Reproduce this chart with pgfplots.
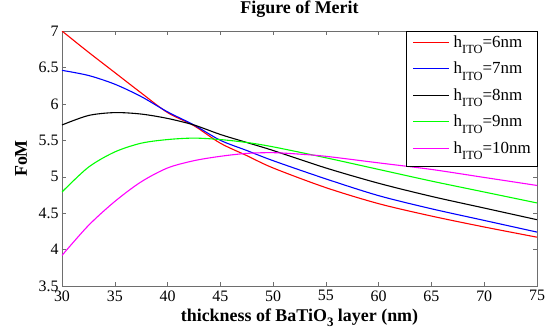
\documentclass[border=0pt]{standalone}
\usepackage{fontspec}
\setmainfont{Liberation Serif}
\usepackage{pgfplots}
\pgfplotsset{compat=1.18}
\definecolor{mred}{RGB}{255,0,0}
\definecolor{mblue}{RGB}{0,0,255}
\definecolor{mgreen}{RGB}{0,255,0}
\definecolor{mmag}{RGB}{255,0,255}
\definecolor{axgray}{RGB}{110,110,110}
\newcommand{\sub}[1]{\raisebox{-6.5bp}{\fontsize{12.5}{14}\selectfont #1}}
\begin{document}
\begin{tikzpicture}
\begin{axis}[
  scale only axis, width=475bp, height=255bp,
  xmin=30, xmax=75, ymin=3.5, ymax=7,
  xtick={30,35,...,75}, ytick={3.5,4,...,7},
  tick align=inside, major tick length=4bp,
  axis line style={axgray}, every tick/.style={axgray},
  /pgf/number format/assume math mode=true,
  tick label style={font=\fontsize{16}{19}\selectfont, text=black},
  xticklabel style={yshift=-1bp},
  title={Figure of Merit},
  title style={font=\fontsize{18}{21}\selectfont\bfseries, at={(axis description cs:0.5,1.0459)}, anchor=base},
  xlabel={thickness of BaTiO\raisebox{-5bp}{\fontsize{13}{15}\selectfont 3} layer (nm)},
  xlabel style={font=\fontsize{18}{21}\selectfont\bfseries, at={(axis description cs:0.5,-0.14)}, anchor=base},
  ylabel={FoM},
  ylabel style={font=\fontsize{18}{21}\selectfont\bfseries, at={(axis description cs:-0.0737,0.5)}, anchor=base},
  legend style={at={(1,1)}, anchor=north east, draw=black, fill=white,
    font=\fontsize{17}{20}\selectfont, row sep=3.5bp, column sep=4bp,
    inner xsep=6bp, inner ysep=3bp,
    nodes={inner sep=0pt, text height=13bp, text depth=10bp},
    cells={anchor=west}},
  legend image code/.code={\draw[#1, line width=1.1bp] (0bp,3.5bp) -- (36bp,3.5bp);},
  every axis plot/.append style={line width=1.1bp, smooth},
]
\addplot[mred] coordinates {(30,7.00) (32.5,6.71) (35,6.43) (37.5,6.15) (40,5.88) (42.5,5.70) (45,5.46) (47.5,5.29) (50,5.12) (55,4.85) (60,4.63) (65,4.46) (70,4.31) (75,4.17)};
\addlegendentry{h\sub{ITO}=6nm}
\addplot[mblue] coordinates {(30,6.46) (32.5,6.39) (35,6.27) (37.5,6.10) (40,5.89) (42.5,5.71) (45,5.50) (47.5,5.36) (50,5.22) (55,4.97) (60,4.74) (65,4.56) (70,4.40) (75,4.24)};
\addlegendentry{h\sub{ITO}=7nm}
\addplot[black] coordinates {(30,5.71) (32.5,5.84) (35,5.88) (37.5,5.86) (40,5.80) (42.5,5.71) (45,5.58) (47.5,5.47) (50,5.36) (55,5.12) (60,4.91) (65,4.73) (70,4.57) (75,4.41)};
\addlegendentry{h\sub{ITO}=8nm}
\addplot[mgreen] coordinates {(30,4.79) (32.5,5.13) (35,5.34) (37.5,5.46) (40,5.51) (42.5,5.53) (45,5.51) (47.5,5.47) (50,5.41) (55,5.26) (60,5.10) (65,4.94) (70,4.79) (75,4.64)};
\addlegendentry{h\sub{ITO}=9nm}
\addplot[mmag] coordinates {(30,3.92) (32.5,4.33) (35,4.66) (37.5,4.93) (40,5.12) (42.5,5.22) (45,5.28) (47.5,5.32) (50,5.33) (52.5,5.31) (55,5.28) (60,5.19) (65,5.10) (70,4.99) (75,4.88)};
\addlegendentry{h\sub{ITO}=10nm}
\end{axis}
\pgfresetboundingbox
\path[use as bounding box] (-62bp,-43bp) rectangle (487bp,286bp);
\end{tikzpicture}
\end{document}
